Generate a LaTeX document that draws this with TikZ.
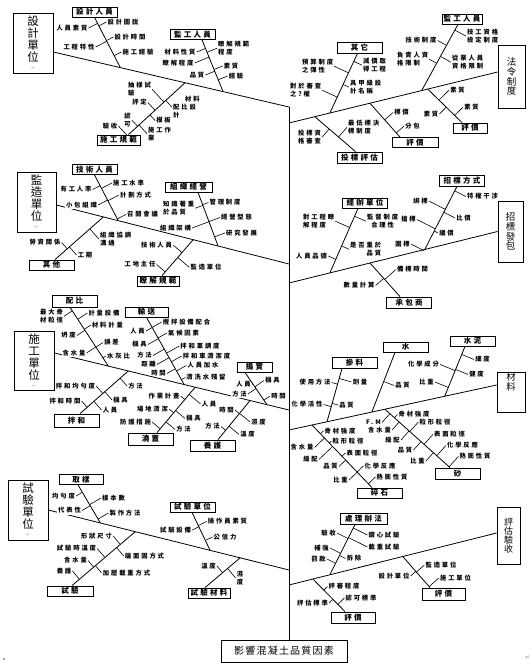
\documentclass[tikz,border=0pt]{standalone}
\usepackage{fontspec}
\usepackage{xcolor}
\usepackage{tikz}
\usetikzlibrary{calc}
\newfontfamily\cjk[LetterSpace=30]{Noto Sans CJK TC}
\newfontfamily\cjkn{Noto Sans CJK TC}
\newfontfamily\cjkg[LetterSpace=12]{Noto Sans CJK TC}
\newfontfamily\djv{DejaVu Sans}
\newcommand{\pmark}{{\djv\fontsize{4}{4}\selectfont\textcolor{black!45}{↵}}}
\newcommand{\tickl}[3]{\draw[tk] (#1.east) -- ($(#2)!(#1.east)!(#3)$);}
\newcommand{\tickr}[3]{\draw[tk] (#1.west) -- ($(#2)!(#1.west)!(#3)$);}
\tikzset{
  cat/.style={rectangle, draw, line width=0.8pt, minimum width=40pt, minimum height=60pt,
              align=center, inner sep=0pt, font=\cjkn\fontsize{11.5}{12}\selectfont},
  catr/.style={rectangle, draw, line width=0.8pt, minimum width=26pt, align=center,
               inner sep=0pt, font=\cjkn\fontsize{9.5}{9.8}\selectfont},
  sub/.style={rectangle, draw, line width=0.8pt, minimum width=45pt, minimum height=10pt,
              inner sep=0pt, font=\cjk\bfseries\fontsize{7.5}{8}\selectfont},
  lbl/.style={inner sep=1pt, align=left, font=\cjk\bfseries\fontsize{6.3}{8}\selectfont},
  lblw/.style={lbl, fill=white},
  goal/.style={rectangle, draw, line width=0.8pt, minimum width=126pt, minimum height=22pt,
               inner sep=0pt, font=\cjkg\fontsize{10}{10}\selectfont},
  bone/.style={line width=0.8pt},
  tk/.style={line width=0.6pt}
}
\begin{document}
\begin{tikzpicture}[x=1pt,y=-1pt]
\useasboundingbox (0,0) rectangle (532,669);

\node[goal] (yx) at (284,651) {影響混凝土品質因素};
\node[cat] (sj) at (33,43) {設\\計\\單\\位\\[-4pt]\pmark};
\node[cat, minimum width=39pt] (jz) at (36.5,202) {監\\造\\單\\位\\[-4pt]\pmark};
\node[cat, minimum height=59pt] (sg) at (34,360.5) {施\\工\\單\\位\\[-4pt]\pmark};
\node[cat] (sy) at (28,510) {試\\驗\\單\\位\\[-4pt]\pmark};
\node[catr, minimum width=27pt, minimum height=63pt] (fl) at (511.5,76.5) {法\\令\\制\\度};
\node[catr, minimum width=25pt, minimum height=61pt] (zb) at (510.5,231.5) {招\\標\\發\\包};
\node[catr, minimum width=28pt, minimum height=40pt] (cl) at (511,392) {材\\料\\\phantom{材}\\\phantom{材}};
\node[catr, minimum width=23pt, minimum height=57pt, font=\cjkn\fontsize{9}{9}\selectfont] (pg) at (508.5,535.5) {評\\估\\驗\\收};

\node[sub] (b11) at (94.5,12) {設計人員};
\node[sub] (b12) at (192.5,34.5) {監工人員};
\node[sub, minimum width=43pt] (b13) at (118.5,140) {施工規範};
\node[sub, minimum height=11pt] (b21) at (359.5,47.5) {其它};
\node[sub, minimum height=11pt] (b22) at (359.5,157.5) {投標評估};
\node[sub, minimum width=46pt] (b23) at (415,142.5) {評價};
\node[sub, minimum width=34pt] (b24) at (470,128) {評價};
\node[sub, minimum width=40pt] (b25) at (462,19) {監工人員};
\node[sub] (b31) at (94.5,169.5) {技術人員};
\node[sub, minimum width=47pt] (b32) at (188.5,187) {組織經營};
\node[sub] (b33) at (51.5,265) {其他};
\node[sub, minimum width=42pt] (b34) at (158,281) {瞭解規範};
\node[sub] (b41) at (365,203) {經辦單位};
\node[sub, minimum height=11pt] (b42) at (462,180.5) {招標方式};
\node[sub, minimum height=11pt] (b43) at (409,302.5) {承包商};
\node[sub, minimum height=12pt] (b51) at (74.5,301) {配比};
\node[sub, minimum width=43pt] (b52) at (146.5,312) {輸送};
\node[sub, minimum width=35pt] (b53) at (254.5,367) {搗實};
\node[sub, minimum height=13pt] (b54) at (76.5,420.5) {拌和};
\node[sub, minimum height=12pt] (b55) at (150.5,439) {澆置};
\node[sub, minimum height=11pt] (b56) at (212.5,445.5) {養護};
\node[sub, minimum height=11pt] (b61) at (354.5,362.5) {摻料};
\node[sub] (b62) at (405.5,347) {水};
\node[sub] (b63) at (472.5,341) {水泥};
\node[sub] (b64) at (379.5,493) {碎石};
\node[sub, minimum height=11pt] (b65) at (457.5,473.5) {砂};
\node[sub, minimum width=44pt] (b71) at (81,479.5) {取樣};
\node[sub] (b72) at (192.5,507) {試驗單位};
\node[sub, minimum width=46pt] (b73) at (70,591) {試驗};
\node[sub, minimum width=42pt] (b74) at (209,593) {試驗材料};
\node[sub, minimum width=47pt, minimum height=11pt] (b81) at (363.5,518.5) {處理辦法};
\node[sub, minimum width=44pt, minimum height=11pt] (b82) at (353,617.5) {評價};
\node[sub, minimum width=43pt, minimum height=12pt] (b83) at (443.5,594) {評價};

\coordinate (m1s) at ([yshift=-9pt]sj.east);
\coordinate (m1e) at (289,107);
\coordinate (m2s) at (289,123);
\coordinate (m2e) at ([yshift=4.5pt]fl.west);
\coordinate (m3s) at ([yshift=-3pt]jz.east);
\coordinate (m3e) at (289,264);
\coordinate (m4s) at (289,283);
\coordinate (m4e) at (zb.west);
\coordinate (m5s) at ([yshift=7.5pt]sg.east);
\coordinate (m5e) at (289,410);
\coordinate (m6s) at (289,430);
\coordinate (m6e) at ([yshift=7pt]cl.west);
\coordinate (m7s) at (sy.east);
\coordinate (m7e) at (289,570);
\coordinate (m8s) at (289,585);
\coordinate (m8e) at ([yshift=2.5pt]pg.west);

\coordinate (s11) at (b11.south);
\coordinate (e11) at ($(m1s)!0.284!(m1e)$);
\coordinate (s12) at ([xshift=9.5pt]b12.south);
\coordinate (e12) at ($(m1s)!0.720!(m1e)$);
\coordinate (s13) at ([xshift=10pt]b13.north);
\coordinate (e13) at ($(m1s)!0.559!(m1e)$);
\coordinate (s21) at ([xshift=-2pt]b21.south);
\coordinate (e21) at ($(m2s)!0.196!(m2e)$);
\coordinate (s22) at ([xshift=-4pt]b22.north);
\coordinate (e22) at ($(m2s)!0.124!(m2e)$);
\coordinate (s23) at ([xshift=-15pt]b23.north);
\coordinate (e23) at ($(m2s)!0.388!(m2e)$);
\coordinate (s24) at ([xshift=-8pt]b24.north);
\coordinate (e24) at ($(m2s)!0.665!(m2e)$);
\coordinate (s25) at ([xshift=-4pt]b25.south);
\coordinate (e25) at ($(m2s)!0.636!(m2e)$);
\coordinate (s31) at (b31.south);
\coordinate (e31) at ($(m3s)!0.266!(m3e)$);
\coordinate (s32) at ([xshift=9.5pt]b32.south);
\coordinate (e32) at ($(m3s)!0.695!(m3e)$);
\coordinate (s33) at ([xshift=3.5pt]b33.north);
\coordinate (e33) at ($(m3s)!0.202!(m3e)$);
\coordinate (s34) at ([xshift=4pt]b34.north);
\coordinate (e34) at ($(m3s)!0.588!(m3e)$);
\coordinate (s41) at ([xshift=-7pt]b41.south);
\coordinate (e41) at ($(m4s)!0.196!(m4e)$);
\coordinate (s42) at ([xshift=-5pt]b42.south);
\coordinate (e42) at ($(m4s)!0.651!(m4e)$);
\coordinate (s43) at ([xshift=-9pt]b43.north);
\coordinate (e43) at ($(m4s)!0.388!(m4e)$);
\coordinate (s51) at ([xshift=-4.5pt]b51.south);
\coordinate (e51) at ($(m5s)!0.230!(m5e)$);
\coordinate (s52) at (b52.south);
\coordinate (e52) at ($(m5s)!0.553!(m5e)$);
\coordinate (s53) at ([xshift=-9.5pt]b53.south);
\coordinate (e53) at ($(m5s)!0.906!(m5e)$);
\coordinate (s54) at ([xshift=3.5pt]b54.north);
\coordinate (e54) at ($(m5s)!0.315!(m5e)$);
\coordinate (s55) at ([xshift=6.5pt]b55.north);
\coordinate (e55) at ($(m5s)!0.600!(m5e)$);
\coordinate (s56) at ([xshift=5.5pt]b56.north);
\coordinate (e56) at ($(m5s)!0.834!(m5e)$);
\coordinate (s61) at ([xshift=-12.5pt]b61.south);
\coordinate (e61) at ($(m6s)!0.183!(m6e)$);
\coordinate (s62) at ([xshift=-10.5pt]b62.south);
\coordinate (e62) at ($(m6s)!0.399!(m6e)$);
\coordinate (s63) at ([xshift=-7.5pt]b63.south);
\coordinate (e63) at ($(m6s)!0.750!(m6e)$);
\coordinate (s64) at ([xshift=-7.5pt]b64.north);
\coordinate (e64) at ($(m6s)!0.111!(m6e)$);
\coordinate (s65) at ([xshift=-7.5pt]b65.north);
\coordinate (e65) at ($(m6s)!0.462!(m6e)$);
\coordinate (s71) at ([xshift=-3pt]b71.south);
\coordinate (e71) at ($(m7s)!0.216!(m7e)$);
\coordinate (s72) at ([xshift=-0.5pt]b72.south);
\coordinate (e72) at ($(m7s)!0.672!(m7e)$);
\coordinate (s73) at ([xshift=2pt]b73.north);
\coordinate (e73) at ($(m7s)!0.361!(m7e)$);
\coordinate (s74) at ([xshift=-4pt]b74.north);
\coordinate (e74) at ($(m7s)!0.797!(m7e)$);
\coordinate (s81) at ([xshift=-8.5pt]b81.south);
\coordinate (e81) at ($(m8s)!0.197!(m8e)$);
\coordinate (s82) at ([xshift=-8pt]b82.north);
\coordinate (e82) at ($(m8s)!0.115!(m8e)$);
\coordinate (s83) at ([xshift=-13.5pt]b83.north);
\coordinate (e83) at ($(m8s)!0.548!(m8e)$);

\draw[bone] (m1e) -- (m1e |- yx.north);
\draw[bone] (m1s) -- (m1e);
\draw[bone] (m2s) -- (m2e);
\draw[bone] (m3s) -- (m3e);
\draw[bone] (m4s) -- (m4e);
\draw[bone] (m5s) -- (m5e);
\draw[bone] (m6s) -- (m6e);
\draw[bone] (m7s) -- (m7e);
\draw[bone] (m8s) -- (m8e);
\draw[bone] (s11) -- (e11);
\draw[bone] (s12) -- (e12);
\draw[bone] (s13) -- (e13);
\draw[bone] (s21) -- (e21);
\draw[bone] (s22) -- (e22);
\draw[bone] (s23) -- (e23);
\draw[bone] (s24) -- (e24);
\draw[bone] (s25) -- (e25);
\draw[bone] (s31) -- (e31);
\draw[bone] (s32) -- (e32);
\draw[bone] (s33) -- (e33);
\draw[bone] (s34) -- (e34);
\draw[bone] (s41) -- (e41);
\draw[bone] (s42) -- (e42);
\draw[bone] (s43) -- (e43);
\draw[bone] (s51) -- (e51);
\draw[bone] (s52) -- (e52);
\draw[bone] (s53) -- (e53);
\draw[bone] (s54) -- (e54);
\draw[bone] (s55) -- (e55);
\draw[bone] (s56) -- (e56);
\draw[bone] (s61) -- (e61);
\draw[bone] (s62) -- (e62);
\draw[bone] (s63) -- (e63);
\draw[bone] (s64) -- (e64);
\draw[bone] (s65) -- (e65);
\draw[bone] (s71) -- (e71);
\draw[bone] (s72) -- (e72);
\draw[bone] (s73) -- (e73);
\draw[bone] (s74) -- (e74);
\draw[bone] (s81) -- (e81);
\draw[bone] (s82) -- (e82);
\draw[bone] (s83) -- (e83);

\node[lbl] (l11a) at (72,28) {人員素質}; \tickl{l11a}{s11}{e11}
\node[lbl] (l11b) at (79,47) {工程特性}; \tickl{l11b}{s11}{e11}
\node[lbl] (l11c) at (123,22) {設計圖說}; \tickr{l11c}{s11}{e11}
\node[lbl] (l11d) at (130,37) {設計時間}; \tickr{l11d}{s11}{e11}
\node[lbl] (l11e) at (138,52) {施工經驗}; \tickr{l11e}{s11}{e11}

\node[lbl] (l12a) at (180,52) {材料性質}; \tickl{l12a}{s12}{e12}
\node[lbl] (l12b) at (178,63) {瞭解程度}; \tickl{l12b}{s12}{e12}
\node[lbl] (l12c) at (197,75) {品質}; \tickl{l12c}{s12}{e12}
\node[lbl, anchor=north west] (l12d) at (217,40) {瞭解規範\\程度}; \tickr{l12d}{s12}{e12}
\node[lbl] (l12e) at (231,66) {素質}; \tickr{l12e}{s12}{e12}
\node[lbl] (l12f) at (236,76) {經驗}; \tickr{l12f}{s12}{e12}

\node[lbl] (l13a) at (110,126) {驗收}; \tickl{l13a}{s13}{e13}
\node[lbl, align=center] (l13b) at (127.5,120) {認\\可}; \tickl{l13b}{s13}{e13}
\node[lbl, anchor=north west] (l13c) at (127,81) {抽樣試\\驗}; \tickl{l13c}{s13}{e13}
\node[lbl] (l13d) at (139.5,102.5) {評定}; \tickl{l13d}{s13}{e13}
\node[lbl, anchor=north west] (l13e) at (172,95) {\hspace{12pt}材料\\配比設\\計}; \tickr{l13e}{s13}{e13}
\node[lbl] (l13f) at (163.5,120.5) {模板}; \tickr{l13f}{s13}{e13}
\node[lbl, anchor=north west] (l13g) at (147,125.5) {施工作\\業}; \tickr{l13g}{s13}{e13}

\node[lbl, anchor=north west] (l21a) at (301,58) {預算制度\\之彈性}; \tickl{l21a}{s21}{e21}
\node[lbl, anchor=north west] (l21b) at (289,82) {對於審查\\之?權}; \tickl{l21b}{s21}{e21}
\node[lbl, anchor=north west] (l21c) at (362,57) {減價取\\得工程}; \tickr{l21c}{s21}{e21}
\node[lbl, anchor=north west] (l21d) at (349,79) {具甲級設\\計名稱}; \tickr{l21d}{s21}{e21}

\node[lbl, anchor=north west] (l22a) at (297,129) {投標資\\格審查}; \tickl{l22a}{s22}{e22}
\node[lbl, anchor=north west] (l22b) at (347,119) {最低標決\\標制度}; \tickr{l22b}{s22}{e22}

\node[lbl] (l23a) at (401.5,112.5) {標價}; \tickr{l23a}{s23}{e23}
\node[lbl] (l23b) at (412.5,126) {分包}; \tickr{l23b}{s23}{e23}

\node[lbl] (l24a) at (457.5,90) {素質}; \tickr{l24a}{s24}{e24}
\node[lbl] (l24b) at (471.5,107) {素質}; \tickr{l24b}{s24}{e24}
\node[lbl] (l24c) at (431,114) {素質}; \tickl{l24c}{s24}{e24}

\node[lbl] (l25a) at (421,40.5) {技術制度}; \tickl{l25a}{s25}{e25}
\node[lbl, anchor=north west] (l25b) at (396,51) {負責人資\\格限制}; \tickl{l25b}{s25}{e25}
\node[lbl, anchor=north west] (l25c) at (466,28) {技工資格\\檢定制度}; \tickr{l25c}{s25}{e25}
\node[lbl, anchor=north west] (l25d) at (451,54) {從業人員\\資格限制}; \tickr{l25d}{s25}{e25}

\node[lbl] (l31a) at (76,189.5) {有工人率}; \tickl{l31a}{s31}{e31}
\node[lblw] (l31b) at (81.5,205) {小包組織}; \tickl{l31b}{s31}{e31}
\node[lbl] (l31c) at (128.5,183) {施工水準}; \tickr{l31c}{s31}{e31}
\node[lbl] (l31d) at (135.5,195) {計劃方式}; \tickr{l31d}{s31}{e31}
\node[lbl] (l31e) at (142.5,214.5) {召開會議}; \tickr{l31e}{s31}{e31}

\node[lbl, anchor=north west] (l32a) at (162,200) {知識著重\\於品質}; \tickl{l32a}{s32}{e32}
\node[lbl] (l32b) at (175.5,228) {組織架構}; \tickl{l32b}{s32}{e32}
\node[lbl] (l32c) at (225,202.5) {管理制度}; \tickr{l32c}{s32}{e32}
\node[lbl] (l32d) at (236.5,217.5) {經營型態}; \tickr{l32d}{s32}{e32}
\node[lbl] (l32e) at (241.5,233) {研究發展}; \tickr{l32e}{s32}{e32}

\node[lbl] (l33a) at (45,242.5) {勞資關係}; \tickl{l33a}{s33}{e33}
\node[lbl, anchor=north west] (l33b) at (99,231) {組織協調\\溝通}; \tickr{l33b}{s33}{e33}
\node[lbl] (l33c) at (85,255) {工期}; \tickr{l33c}{s33}{e33}

\node[lbl] (l34a) at (156.5,245) {技術人員}; \tickl{l34a}{s34}{e34}
\node[lbl] (l34b) at (140,264.5) {工地主任}; \tickl{l34b}{s34}{e34}
\node[lbl] (l34c) at (206,267.5) {監造單位}; \tickr{l34c}{s34}{e34}

\node[lbl, anchor=north west] (l41a) at (302,213) {對工程瞭\\解程度}; \tickl{l41a}{s41}{e41}
\node[lbl] (l41b) at (311.5,256) {人員品德}; \tickl{l41b}{s41}{e41}
\node[lbl, anchor=north west, align=center] (l41c) at (366,213) {監督制度\\合理性}; \tickr{l41c}{s41}{e41}
\node[lbl, anchor=north west, align=right] (l41d) at (349,241) {是否重於\\品質}; \tickr{l41d}{s41}{e41}

\node[lbl] (l42a) at (420.5,201) {綁標}; \tickl{l42a}{s42}{e42}
\node[lbl] (l42b) at (408.5,219.5) {搶標}; \tickl{l42b}{s42}{e42}
\node[lbl] (l42c) at (402.5,244) {圍標}; \tickl{l42c}{s42}{e42}
\node[lbl] (l42d) at (482.5,196.5) {特權干涉}; \tickr{l42d}{s42}{e42}
\node[lbl] (l42e) at (463.5,218) {比價}; \tickr{l42e}{s42}{e42}
\node[lbl] (l42f) at (446.5,233) {議價}; \tickr{l42f}{s42}{e42}

\node[lbl] (l43a) at (412.5,269.5) {備標時間}; \tickr{l43a}{s43}{e43}
\node[lbl] (l43b) at (359,285.5) {數量計算}; \tickl{l43b}{s43}{e43}

\node[lbl, anchor=north west] (l51a) at (39,308) {最大骨\\材粒徑}; \tickl{l51a}{s51}{e51}
\node[lbl] (l51b) at (68.5,335.5) {坍度}; \tickl{l51b}{s51}{e51}
\node[lblw] (l51c) at (74,353) {含水量}; \tickl{l51c}{s51}{e51}
\node[lbl] (l51d) at (104,313) {計量設備}; \tickr{l51d}{s51}{e51}
\node[lbl] (l51e) at (107.5,325) {材料計量}; \tickr{l51e}{s51}{e51}
\node[lbl] (l51f) at (111.5,342.5) {誤差}; \tickr{l51f}{s51}{e51}
\node[lbl] (l51g) at (118.5,356) {水灰比}; \tickr{l51g}{s51}{e51}

\node[lbl] (l52a) at (137.5,331) {人員}; \tickl{l52a}{s52}{e52}
\node[lbl] (l52b) at (139.5,344.5) {機具}; \tickl{l52b}{s52}{e52}
\node[lbl] (l52c) at (144.5,355.5) {方法}; \tickl{l52c}{s52}{e52}
\node[lbl] (l52d) at (148.5,364.5) {距離}; \tickl{l52d}{s52}{e52}
\node[lbl] (l52e) at (158.5,373.5) {時間}; \tickl{l52e}{s52}{e52}
\node[lbl] (l52f) at (186.5,322) {攪拌設備配合}; \tickr{l52f}{s52}{e52}
\node[lbl] (l52g) at (183.5,333) {氣候因素}; \tickr{l52g}{s52}{e52}
\node[lbl] (l52h) at (200,346) {拌和車調度}; \tickr{l52h}{s52}{e52}
\node[lbl] (l52i) at (206.5,356) {拌和車清潔度}; \tickr{l52i}{s52}{e52}
\node[lbl] (l52j) at (203,365.5) {人員加水}; \tickr{l52j}{s52}{e52}
\node[lbl] (l52k) at (206,377.5) {清洗水殘留}; \tickr{l52k}{s52}{e52}

\node[lbl] (l53a) at (243.5,384.5) {人員}; \tickl{l53a}{s53}{e53}
\node[lblw] (l53b) at (239.5,394) {方法}; \tickl{l53b}{s53}{e53}
\node[lbl] (l53c) at (272.5,380.5) {機具}; \tickr{l53c}{s53}{e53}
\node[lbl] (l53d) at (278.5,396) {時間}; \tickr{l53d}{s53}{e53}

\node[lbl] (l54a) at (75.5,386) {拌和均勻度}; \tickl{l54a}{s54}{e54}
\node[lbl] (l54b) at (65,401) {拌和時間}; \tickl{l54b}{s54}{e54}
\node[lbl] (l54c) at (135.5,386) {方法}; \tickr{l54c}{s54}{e54}
\node[lbl] (l54d) at (120.5,400) {機具}; \tickr{l54d}{s54}{e54}
\node[lbl] (l54e) at (110,410) {人員}; \tickr{l54e}{s54}{e54}

\node[lbl] (l55a) at (164,396) {作業計畫}; \tickl{l55a}{s55}{e55}
\node[lbl] (l55b) at (152.5,409) {場地清潔}; \tickl{l55b}{s55}{e55}
\node[lbl] (l55c) at (135.5,422) {防護措施}; \tickl{l55c}{s55}{e55}
\node[lbl] (l55d) at (209,404) {人員}; \tickr{l55d}{s55}{e55}
\node[lbl] (l55e) at (193.5,418.5) {機具}; \tickr{l55e}{s55}{e55}
\node[lbl] (l55f) at (183.5,429.5) {方法}; \tickr{l55f}{s55}{e55}

\node[lbl] (l56a) at (226.5,410) {時間}; \tickl{l56a}{s56}{e56}
\node[lbl] (l56b) at (212.5,426.5) {方法}; \tickl{l56b}{s56}{e56}
\node[lbl] (l56c) at (258.5,422) {濕度}; \tickr{l56c}{s56}{e56}
\node[lbl] (l56d) at (247.5,434.5) {溫度}; \tickr{l56d}{s56}{e56}

\node[lbl] (l61a) at (315,382.5) {使用方法}; \tickl{l61a}{s61}{e61}
\node[lbl] (l61b) at (307,404.5) {化學活性}; \tickl{l61b}{s61}{e61}
\node[lbl] (l61c) at (360,382) {劑量}; \tickr{l61c}{s61}{e61}
\node[lbl] (l61d) at (346.5,405) {品質}; \tickr{l61d}{s61}{e61}

\node[lbl] (l62a) at (402.5,385.5) {品質}; \tickr{l62a}{s62}{e62}

\node[lbl] (l63a) at (423.5,364.5) {化學成分}; \tickl{l63a}{s63}{e63}
\node[lbl] (l63b) at (426.5,382) {比重}; \tickl{l63b}{s63}{e63}
\node[lbl] (l63c) at (482.5,359.5) {細度}; \tickr{l63c}{s63}{e63}
\node[lbl] (l63d) at (476.5,374.5) {健度}; \tickr{l63d}{s63}{e63}

\node[lbl] (l64a) at (340,431) {骨材強度}; \tickr{l64a}{s64}{e64}
\node[lbl] (l64b) at (348,441) {粒形粒徑}; \tickr{l64b}{s64}{e64}
\node[lbl] (l64c) at (362,453) {表面粒徑}; \tickr{l64c}{s64}{e64}
\node[lbl] (l64d) at (380,466) {化學反應}; \tickr{l64d}{s64}{e64}
\node[lbl] (l64e) at (392,477) {熱膨性質}; \tickr{l64e}{s64}{e64}
\node[lbl] (l64f) at (302,447.5) {含水量}; \tickl{l64f}{s64}{e64}
\node[lbl] (l64g) at (310.5,459.5) {級配}; \tickl{l64g}{s64}{e64}
\node[lbl] (l64h) at (330.5,466.5) {品質}; \tickl{l64h}{s64}{e64}
\node[lbl] (l64i) at (340.5,480) {比重}; \tickl{l64i}{s64}{e64}

\node[lbl] (l65a) at (414,414.5) {骨材強度}; \tickr{l65a}{s65}{e65}
\node[lbl] (l65b) at (435,422) {粒形粒徑}; \tickr{l65b}{s65}{e65}
\node[lbl] (l65c) at (449.5,434.5) {表面粒徑}; \tickr{l65c}{s65}{e65}
\node[lbl] (l65d) at (462.5,445.5) {化學反應}; \tickr{l65d}{s65}{e65}
\node[lbl] (l65e) at (475,456.5) {熱膨性質}; \tickr{l65e}{s65}{e65}
\node[lbl] (l65f) at (373.5,422.5) {F.M}; \tickl{l65f}{s65}{e65}
\node[lbl] (l65g) at (379.5,430) {含水量}; \tickl{l65g}{s65}{e65}
\node[lbl] (l65h) at (392.5,440) {級配}; \tickl{l65h}{s65}{e65}
\node[lbl] (l65i) at (405,450) {品質}; \tickl{l65i}{s65}{e65}
\node[lbl] (l65j) at (417.5,461) {比重}; \tickl{l65j}{s65}{e65}

\node[lbl] (l71a) at (63.5,496) {均勻度}; \tickl{l71a}{s71}{e71}
\node[lblw] (l71b) at (69.5,510.5) {代表性}; \tickl{l71b}{s71}{e71}
\node[lbl] (l71c) at (113.5,498) {樣本數}; \tickr{l71c}{s71}{e71}
\node[lbl] (l71d) at (125,513) {製作方法}; \tickr{l71d}{s71}{e71}

\node[lbl] (l72a) at (227.5,521.5) {操作員素質}; \tickr{l72a}{s72}{e72}
\node[lbl] (l72b) at (225,537) {公信力}; \tickr{l72b}{s72}{e72}
\node[lbl] (l72c) at (175.5,530) {試驗設備}; \tickl{l72c}{s72}{e72}

\node[lbl] (l73a) at (96.5,536) {形狀尺寸}; \tickl{l73a}{s73}{e73}
\node[lbl] (l73b) at (76.5,548.5) {試驗時溫度}; \tickl{l73b}{s73}{e73}
\node[lbl] (l73c) at (75.5,560.5) {含水量}; \tickl{l73c}{s73}{e73}
\node[lbl] (l73d) at (64,571) {養護}; \tickl{l73d}{s73}{e73}
\node[lbl] (l73e) at (144.5,556) {端面固方式}; \tickr{l73e}{s73}{e73}
\node[lbl] (l73f) at (126.5,573) {加壓載重方式}; \tickr{l73f}{s73}{e73}

\node[lbl] (l74a) at (208.5,566) {溫度}; \tickl{l74a}{s74}{e74}
\node[lbl, align=center] (l74b) at (240,578) {濕\\度}; \tickr{l74b}{s74}{e74}

\node[lbl] (l81a) at (328.5,533) {驗收}; \tickl{l81a}{s81}{e81}
\node[lbl] (l81b) at (321.5,548) {補強}; \tickl{l81b}{s81}{e81}
\node[lbl] (l81c) at (318.5,559) {罰款}; \tickl{l81c}{s81}{e81}
\node[lbl] (l81d) at (384,535) {鑽心試驗}; \tickr{l81d}{s81}{e81}
\node[lbl] (l81e) at (384,547) {載重試驗}; \tickr{l81e}{s81}{e81}
\node[lbl] (l81f) at (354,558.5) {拆除}; \tickr{l81f}{s81}{e81}

\node[lbl] (l82a) at (344,586.5) {評審程度}; \tickr{l82a}{s82}{e82}
\node[lbl] (l82b) at (361,598) {認可標準}; \tickr{l82b}{s82}{e82}
\node[lbl] (l82c) at (312.5,603) {評估標準}; \tickl{l82c}{s82}{e82}

\node[lbl] (l83a) at (441,565) {監造單位}; \tickr{l83a}{s83}{e83}
\node[lbl] (l83b) at (455.5,578) {施工單位}; \tickr{l83b}{s83}{e83}
\node[lbl] (l83c) at (394,576) {設計單位}; \tickl{l83c}{s83}{e83}

\node[font=\djv\fontsize{6}{6}\selectfont, text=black!45, inner sep=0pt] (pm) at (528,658) {↵};
\node[fill=black!35, inner sep=0pt, minimum size=1.5pt] (pt) at (4,659) {};
\end{tikzpicture}
\end{document}
